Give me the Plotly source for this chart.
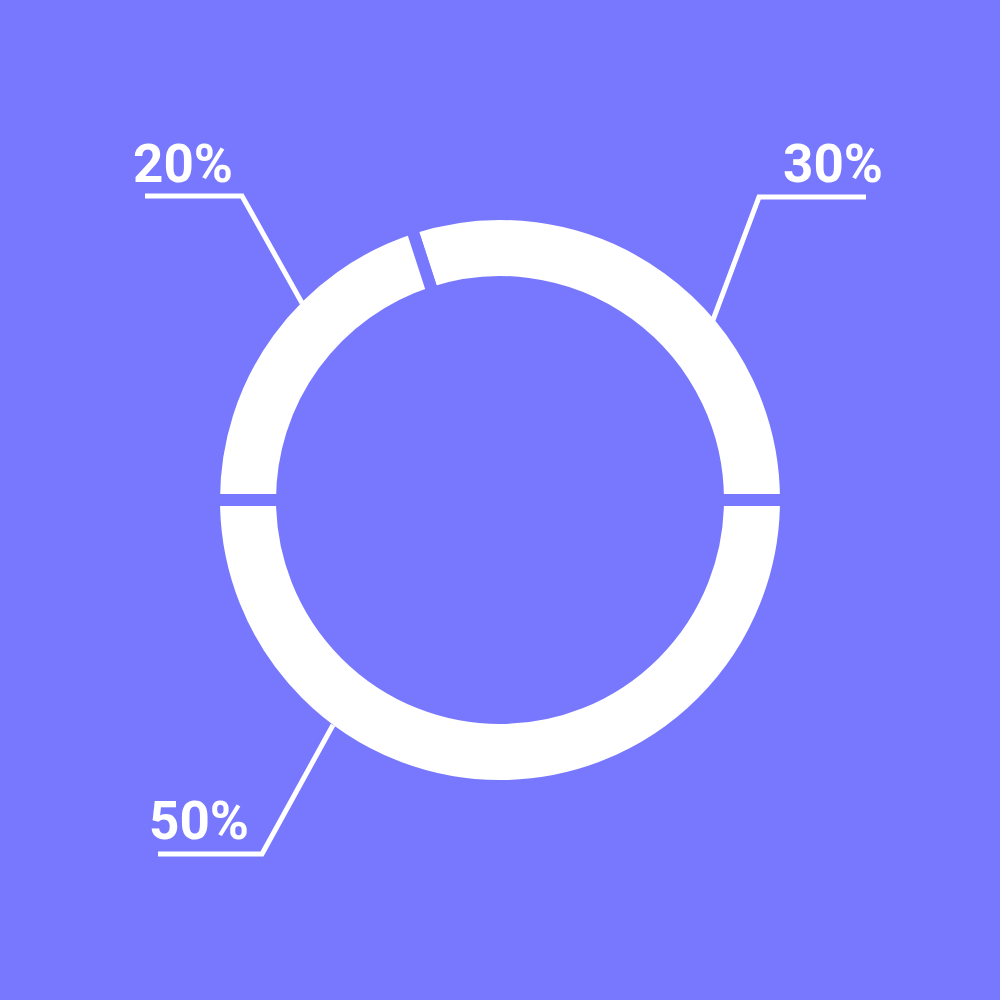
import plotly.graph_objects as go

# ---- data ----
labels = ["30%", "50%", "20%"]
values = [30, 50, 20]

# ---- style / layout constants ----
BG = "#7878FF"
WHITE = "#FFFFFF"
GAP = 12
# leader-line polylines (pixel coords in a 1000x1000 page) and label centers
leader_paths = [
    [(866, 197), (759, 197), (713, 320)],   # 30%
    [(158, 854), (262, 854), (333, 725)],   # 50%
    [(145, 196), (242, 196), (302, 303)],   # 20%
]
label_pos = [(833, 164), (199, 821), (183, 164)]

fig = go.Figure()
fig.add_trace(go.Pie(
    labels=labels,
    values=values,
    sort=False,
    direction="clockwise",
    rotation=-18,
    hole=0.7622,
    marker=dict(colors=[WHITE] * len(values), line=dict(color=BG, width=GAP)),
    textinfo="none",
    hoverinfo="label",
    showlegend=False,
    domain=dict(x=[0.214, 0.786], y=[0.214, 0.786]),
))

def px(x, y):
    return x / 1000.0, 1 - y / 1000.0

shapes = []
for pts in leader_paths:
    p = [px(*q) for q in pts]
    d = "M {} {} L {} {} L {} {}".format(p[0][0], p[0][1], p[1][0], p[1][1], p[2][0], p[2][1])
    shapes.append(dict(type="path", xref="paper", yref="paper", path=d,
                       line=dict(color=WHITE, width=5)))

annotations = []
for lab, (x, y) in zip(labels, label_pos):
    ax, ay = px(x, y)
    annotations.append(dict(text=lab, x=ax, y=ay, xref="paper", yref="paper",
                            xanchor="center", yanchor="middle", showarrow=False,
                            font=dict(family="Roboto", size=53, color=WHITE, weight=700)))

fig.update_layout(
    width=1000, height=1000,
    margin=dict(l=0, r=0, t=0, b=0),
    paper_bgcolor=BG, plot_bgcolor=BG,
    shapes=shapes, annotations=annotations,
)

fig.write_html("out.html")
